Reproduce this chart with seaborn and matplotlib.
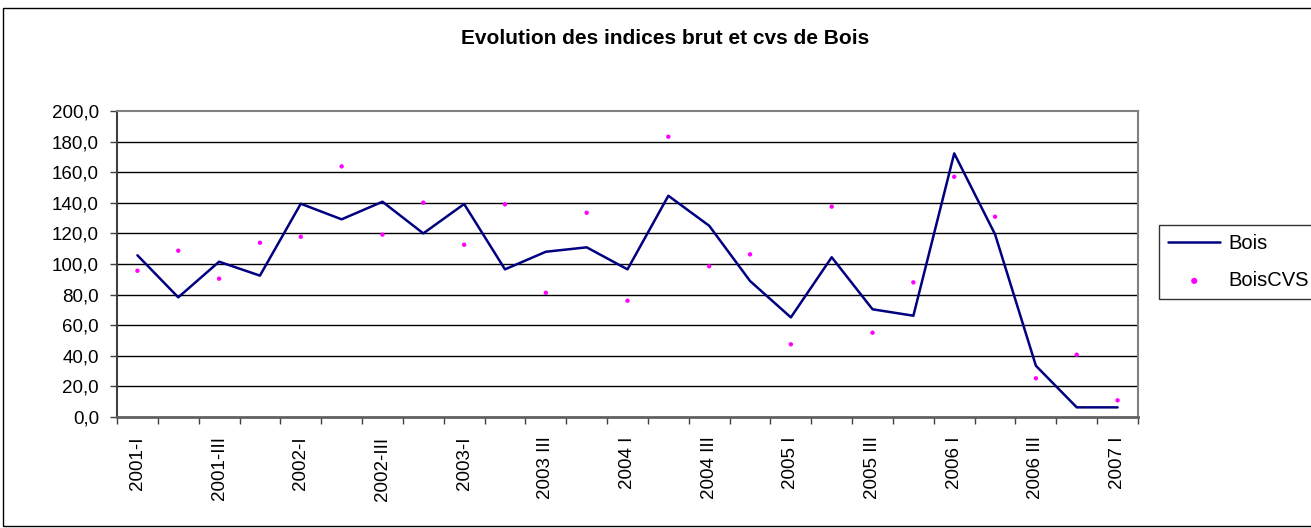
import numpy as np
import pandas as pd
import matplotlib
matplotlib.use("Agg")
import matplotlib.pyplot as plt
import seaborn as sns
from matplotlib.ticker import FuncFormatter, FixedLocator

# quarters 2001-I .. 2007-I
quarters = ["2001-I", "2001-II", "2001-III", "2001-IV",
            "2002-I", "2002-II", "2002-III", "2002-IV",
            "2003-I", "2003 II", "2003 III", "2003 IV",
            "2004 I", "2004 II", "2004 III", "2004 IV",
            "2005 I", "2005 II", "2005 III", "2005 IV",
            "2006 I", "2006 II", "2006 III", "2006 IV",
            "2007 I"]

bois = [105.7, 78.2, 101.5, 92.4, 139.4, 129.2, 140.7, 120.0, 139.2, 96.5,
        108.0, 110.9, 96.5, 144.6, 125.0, 88.9, 65.1, 104.4, 70.4, 66.2,
        172.3, 119.4, 33.5, 6.3, 6.3]

bois_cvs = [95.6, 108.7, 90.4, 113.9, 117.8, 163.8, 119.2, 140.1, 112.6, 139.0,
            81.2, 133.5, 76.0, 183.2, 98.5, 106.3, 47.5, 137.5, 55.1, 88.0,
            157.0, 130.9, 25.3, 40.7, 10.9]

y_ticks = [0, 20, 40, 60, 80, 100, 120, 140, 160, 180, 200]

df = pd.DataFrame({"idx": np.arange(len(quarters)), "quarter": quarters,
                   "Bois": bois, "BoisCVS": bois_cvs})

sns.set_theme(style="white")
plt.rcParams["font.family"] = ["Liberation Sans", "DejaVu Sans"]
plt.rcParams["text.color"] = "black"
plt.rcParams["xtick.labelcolor"] = "black"
plt.rcParams["ytick.labelcolor"] = "black"

fig = plt.figure(figsize=(13.11, 5.28), dpi=100)
ax = fig.add_axes([117 / 1311, 1 - 417 / 528, (1138 - 117) / 1311, (417 - 111) / 528])

sns.lineplot(data=df, x="idx", y="Bois", ax=ax, color="#000080", linewidth=1.8,
             label="Bois", zorder=3)
sns.scatterplot(data=df, x="idx", y="BoisCVS", ax=ax, color="#FF00FF", s=10,
                edgecolor="none", label="BoisCVS", zorder=4)

ax.set_xlim(-0.5, len(quarters) - 0.5)
ax.set_ylim(0, 200)
ax.set_xlabel("")
ax.set_ylabel("")

# horizontal gridlines
for v in y_ticks[1:-1]:
    ax.axhline(v, color="black", linewidth=1, zorder=1)

ax.yaxis.set_major_locator(FixedLocator(y_ticks))
ax.yaxis.set_major_formatter(FuncFormatter(lambda v, p: f"{v:.1f}".replace(".", ",")))
ax.tick_params(axis="y", direction="out", length=5, width=1, color="#404040",
               labelsize=13.5, pad=8, left=True)

# labels every second quarter, ticks on category boundaries
ax.set_xticks(np.arange(0, len(quarters), 2))
ax.set_xticklabels(quarters[::2], rotation=90)
ax.set_xticks(np.arange(-0.5, len(quarters), 1), minor=True)
ax.tick_params(axis="x", which="major", length=0, labelsize=13.5, pad=14)
ax.tick_params(axis="x", which="minor", direction="out", length=5, width=1,
               color="#404040", bottom=True)

for side in ["top", "right"]:
    ax.spines[side].set_color("#808080")
    ax.spines[side].set_linewidth(1.5)
ax.spines["left"].set_color("#404040")
ax.spines["left"].set_linewidth(1.5)
ax.spines["bottom"].set_color("#606060")
ax.spines["bottom"].set_linewidth(2)

title = fig.suptitle("Evolution des indices brut et cvs de Bois", x=665 / 1311,
                     y=1 - 38 / 528, va="center", fontsize=15, fontweight="bold",
                     color="black")

ax.get_legend().remove()
handles, labels = ax.get_legend_handles_labels()
leg = fig.legend(handles, labels, loc="upper left", bbox_to_anchor=(1159 / 1311, 1 - 225 / 528),
                 fontsize=14.5, frameon=True, fancybox=False, edgecolor="black",
                 handlelength=2.6, handletextpad=0.4, borderpad=0.45, labelspacing=0.9,
                 borderaxespad=0, markerscale=1.4)
leg.get_frame().set_linewidth(1)

# outer chart border
fig.add_artist(plt.Rectangle((3 / 1311, 2 / 528), 1.5, 1 - 10 / 528, transform=fig.transFigure,
                             fill=False, edgecolor="black", linewidth=1))

fig.savefig("out.png", dpi=100)
